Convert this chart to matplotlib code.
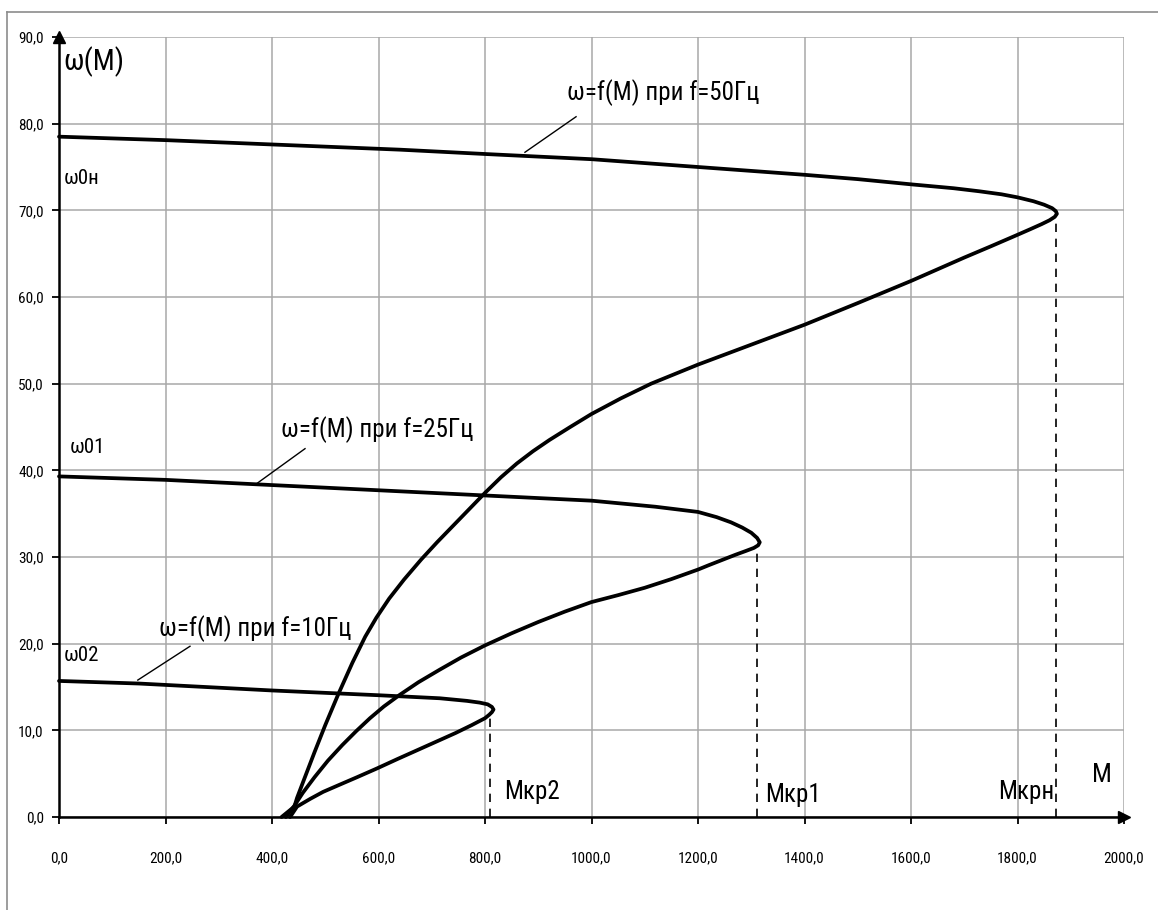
import matplotlib
matplotlib.use("Agg")
import matplotlib.pyplot as plt

# condensed face, DejaVu as fallback for any missing glyph
plt.rcParams['font.family'] = ['Roboto Condensed', 'DejaVu Sans']

# =========================
# Data
# =========================
# f = 50 Hz : omega, M  (from omega0 down to standstill)
w_50 = [78.5, 78.1, 77.6, 77.0, 76.5, 75.9, 75.0, 74.1, 73.6, 73.0, 72.55, 72.2, 71.85, 71.5,
        71.05, 70.65, 70.25, 69.9, 69.6, 69.25, 68.85, 68.4, 67.85, 67.15, 65.85, 64.55, 61.85,
        59.3, 56.8, 54.5, 52.2, 50.0, 48.3, 46.5, 45.0, 43.5, 42.2, 40.8, 39.2, 37.4, 35.5,
        33.6, 31.7, 29.7, 27.4, 25.2, 23.0, 20.8, 17.8, 14.1, 10.6, 7.5, 4.3, 2.2, 1.2, 0.0]
M_50 = [0, 200, 400, 640, 800, 1000, 1200, 1400, 1500, 1600, 1680, 1728, 1770, 1800,
        1830, 1850, 1865, 1872, 1874, 1870, 1860, 1845, 1825, 1799, 1750, 1700, 1600,
        1500, 1400, 1300, 1200, 1112, 1055, 1000, 960, 921, 890, 860, 830, 800, 770,
        740, 710, 680, 648, 620, 596, 575, 551, 524, 500, 480, 460, 447, 442, 418]

# f = 25 Hz
w_25 = [39.3, 38.9, 38.3, 37.7, 37.1, 36.5, 35.8, 35.2, 34.6, 34.0, 33.4, 32.8, 32.2, 31.7,
        31.35, 31.05, 30.7, 30.25, 29.65, 29.05, 28.55, 27.45, 26.45, 25.6, 24.8, 23.7, 22.5,
        21.2, 19.8, 18.4, 17.0, 15.55, 14.1, 12.75, 11.4, 9.9, 8.3, 6.5, 4.6, 2.8, 1.3, 0.0]
M_25 = [0, 200, 400, 600, 800, 1000, 1120, 1200, 1235, 1262, 1283, 1300, 1311, 1316,
        1313, 1305, 1290, 1270, 1245, 1220, 1200, 1150, 1100, 1050, 1000, 950, 900,
        850, 800, 755, 715, 675, 640, 610, 584, 558, 532, 505, 480, 458, 442, 426]

# f = 10 Hz
w_10 = [15.7, 15.4, 14.6, 14.05, 13.7, 13.4, 13.2, 13.0, 12.7, 12.4, 12.1, 11.8, 11.4,
        10.6, 9.7, 8.9, 7.8, 6.7, 5.6, 4.6, 3.7, 2.9, 2.1, 1.2, 0.0]
M_10 = [0, 150, 400, 600, 715, 766, 790, 805, 813, 816, 813, 808, 800,
        775, 745, 716, 676, 636, 597, 560, 526, 496, 472, 447, 434]

# critical torques and the speed at them
M_kr = [809, 1311, 1872]
w_kr = [12.0, 31.2, 69.5]

x_ticks = [0, 200, 400, 600, 800, 1000, 1200, 1400, 1600, 1800, 2000]
y_ticks = [0, 10, 20, 30, 40, 50, 60, 70, 80, 90]

# =========================
# Plot
# =========================
fig = plt.figure(figsize=(11.58, 9.10), dpi=100)
ax = fig.add_axes([59 / 1158, 93 / 910, 1065 / 1158, 780 / 910])

# outer chart frame (only top/left visible)
fig.add_artist(plt.Line2D([7 / 1158, 7 / 1158], [0, 898 / 910], color="#8c8c8c", lw=1.2))
fig.add_artist(plt.Line2D([7 / 1158, 1], [898 / 910, 898 / 910], color="#8c8c8c", lw=1.2))

ax.set_xlim(0, 2000)
ax.set_ylim(0, 90)
ax.set_xticks(x_ticks)
ax.set_yticks(y_ticks)
ax.set_xticklabels([f"{v:.1f}".replace(".", ",") for v in x_ticks])
ax.set_yticklabels([f"{v:.1f}".replace(".", ",") for v in y_ticks])
ax.tick_params(direction="out", length=5, width=1.3, labelsize=11, color="black")
ax.tick_params(axis="x", pad=20)
ax.tick_params(axis="y", pad=6)
ax.grid(True, color="#a8a8a8", lw=1.1)
ax.set_axisbelow(True)

for s in ["top", "right"]:
    ax.spines[s].set_visible(False)
for s in ["left", "bottom"]:
    ax.spines[s].set_linewidth(1.8)
    ax.spines[s].set_zorder(5)

# axis arrows
ax.plot([0], [90], marker="^", ms=9, color="black", clip_on=False, zorder=6)
ax.plot([2000], [0], marker=">", ms=9, color="black", clip_on=False, zorder=6)

# curves
for M, w in [(M_50, w_50), (M_25, w_25), (M_10, w_10)]:
    ax.plot(M, w, color="black", lw=2.7, solid_joinstyle="round", solid_capstyle="round",
            zorder=4, clip_on=False)

# critical torque dashed lines
for m, w in zip(M_kr, w_kr):
    ax.plot([m, m], [0, w], color="black", lw=1.2, ls=(0, (5, 4)), zorder=3)

# leader lines
ax.plot([875, 971], [76.7, 80.8], color="black", lw=1)
ax.plot([372, 462], [38.5, 42.5], color="black", lw=1)
ax.plot([148, 246], [15.8, 19.7], color="black", lw=1)

# texts
ax.text(1135, 83.6, "ω=f(M) при f=50Гц", fontsize=18, ha="center", va="center")
ax.text(598, 44.65, "ω=f(M) при f=25Гц", fontsize=18, ha="center", va="center")
ax.text(368, 21.7, "ω=f(M) при f=10Гц", fontsize=18, ha="center", va="center")

ax.text(8, 87.1, "ω(M)", fontsize=21, ha="left", va="center")
ax.text(8, 73.7, "ω0н", fontsize=15, ha="left", va="center")
ax.text(20, 42.6, "ω01", fontsize=15, ha="left", va="center")
ax.text(9, 18.6, "ω02", fontsize=15, ha="left", va="center")

ax.text(836, 2.9, "Мкр2", fontsize=18, ha="left", va="center")
ax.text(1326, 2.5, "Мкр1", fontsize=18, ha="left", va="center")
ax.text(1763, 2.9, "Мкрн", fontsize=18, ha="left", va="center")
ax.text(1940, 4.85, "М", fontsize=19, ha="left", va="center")

plt.savefig("out.png", dpi=100)
plt.close()
